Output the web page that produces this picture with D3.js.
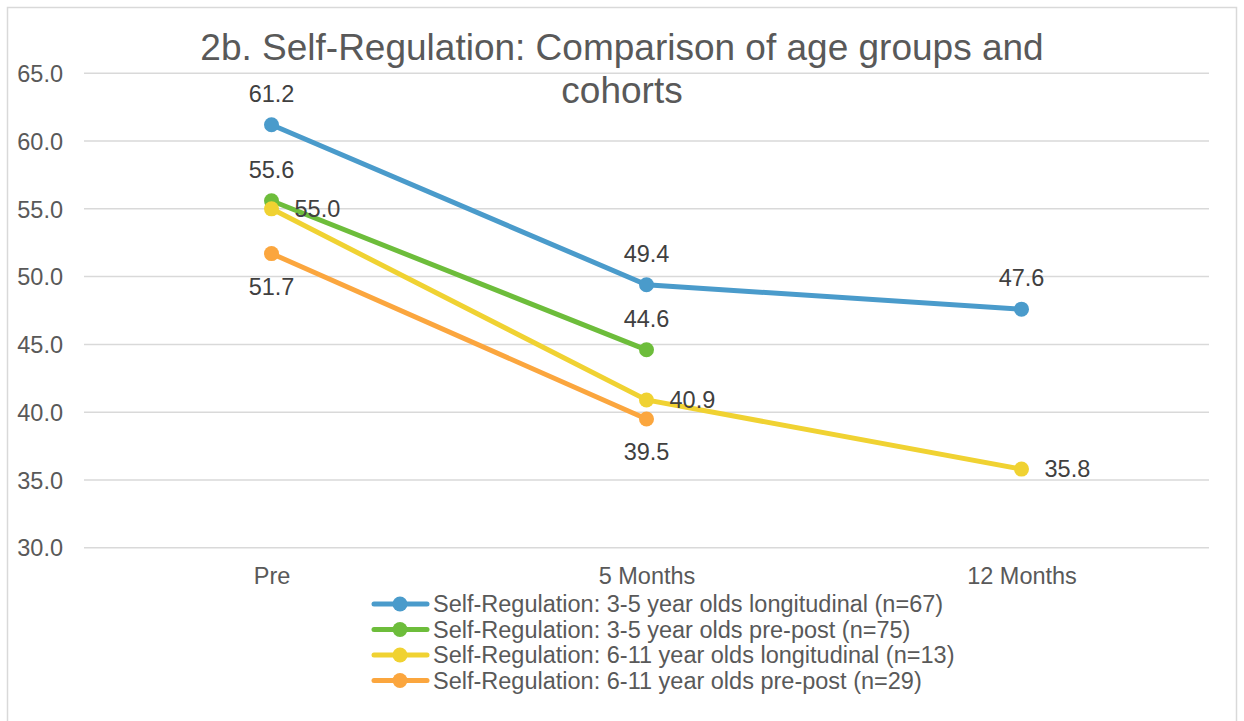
<!DOCTYPE html>
<html><head><meta charset="utf-8">
<script src="https://cdn.jsdelivr.net/npm/d3@7"></script>
<style>body{margin:0;background:#fff}svg{display:block;font-family:"Liberation Sans",Arial,sans-serif}</style>
</head><body><svg id="c" width="1244" height="721"></svg>
<script>
const categories = ["Pre", "5 Months", "12 Months"];
const seriesNames = [
  "Self-Regulation: 3-5 year olds longitudinal (n=67)",
  "Self-Regulation: 3-5 year olds pre-post (n=75)",
  "Self-Regulation: 6-11 year olds longitudinal (n=13)",
  "Self-Regulation: 6-11 year olds pre-post (n=29)"
];
const s1 = [61.2, 49.4, 47.6];
const s2 = [55.6, 44.6, null];
const s3 = [55.0, 40.9, 35.8];
const s4 = [51.7, 39.5, null];
const labelPos = [["above","above","above"],["above","above",null],["right","right","right"],["below","below",null]];
const colors = ["#4A9BCB", "#6DBD3B", "#F0D232", "#FBA63E"];
const yTicks = [30, 35, 40, 45, 50, 55, 60, 65];
const titleLines = ["2b. Self-Regulation: Comparison of age groups and", "cohorts"];

const svg = d3.select("#c");
svg.append("rect").attr("x",7.5).attr("y",7.5).attr("width",1229).attr("height",720).attr("fill","#fff").attr("stroke","#d9d9d9").attr("stroke-width",1.5);

const x = d3.scalePoint().domain(categories).range([84,1209]).padding(0.5);
const y = d3.scaleLinear().domain([30,65]).range([547.7,73.3]);

const g = svg.append("g");
g.selectAll("line.grid").data(yTicks).join("line")
  .attr("x1",84).attr("x2",1209).attr("y1",d=>y(d)).attr("y2",d=>y(d))
  .attr("stroke","#d9d9d9").attr("stroke-width",1.5);

const yAxis = d3.axisLeft(y).tickValues(yTicks).tickFormat(d3.format(".1f")).tickSize(0).tickPadding(0);
svg.append("g").attr("transform","translate(63,0)").call(yAxis)
  .call(a=>a.select(".domain").remove())
  .selectAll("text").attr("font-size",23.5).attr("fill","#595959").attr("font-family","Liberation Sans, Arial, sans-serif").attr("dy","0.35em");

const xAxis = d3.axisBottom(x).tickSize(0).tickPadding(0);
svg.append("g").attr("transform","translate(0,567)").call(xAxis)
  .call(a=>a.select(".domain").remove())
  .selectAll("text").attr("font-size",23.5).attr("fill","#595959").attr("font-family","Liberation Sans, Arial, sans-serif").attr("dy","0.71em");

svg.append("text").attr("x",622).attr("text-anchor","middle").attr("font-size",37).attr("fill","#595959")
  .selectAll("tspan").data(titleLines).join("tspan").attr("x",622).attr("y",(d,i)=>60+i*43).text(d=>d);

const all = [s1,s2,s3,s4];
const line = d3.line().defined(d=>d.v!=null).x(d=>x(d.c)).y(d=>y(d.v));
all.forEach((s,i)=>{
  const pts = s.map((v,j)=>({c:categories[j],v}));
  g.append("path").attr("d",line(pts)).attr("fill","none").attr("stroke",colors[i]).attr("stroke-width",5).attr("stroke-linecap","round");
});
all.forEach((s,i)=>{
  const pts = s.map((v,j)=>({c:categories[j],v,j})).filter(d=>d.v!=null);
  g.selectAll(null).data(pts).join("circle").attr("cx",d=>x(d.c)).attr("cy",d=>y(d.v)).attr("r",7.5).attr("fill",colors[i]);
});
all.forEach((s,i)=>{
  const pts = s.map((v,j)=>({c:categories[j],v,j})).filter(d=>d.v!=null);
  g.selectAll(null).data(pts).join("text")
    .attr("font-size",23.5).attr("fill","#404040")
    .attr("text-anchor",d=>labelPos[i][d.j]==="right"?"start":"middle")
    .attr("x",d=>labelPos[i][d.j]==="right"?x(d.c)+23:x(d.c))
    .attr("y",d=>{const p=labelPos[i][d.j]; const yy=y(d.v); return p==="above"?yy-23:p==="below"?yy+41:yy+8;})
    .text(d=>d3.format(".1f")(d.v));
});

const lg = svg.append("g");
seriesNames.forEach((n,i)=>{
  const yy = 604 + i*25.5;
  lg.append("line").attr("x1",374).attr("x2",427).attr("y1",yy).attr("y2",yy).attr("stroke",colors[i]).attr("stroke-width",5).attr("stroke-linecap","round");
  lg.append("circle").attr("cx",400).attr("cy",yy).attr("r",7.5).attr("fill",colors[i]);
  lg.append("text").attr("x",433).attr("y",yy+8).attr("font-size",23.5).attr("fill","#595959").text(n);
});
</script></body></html>
